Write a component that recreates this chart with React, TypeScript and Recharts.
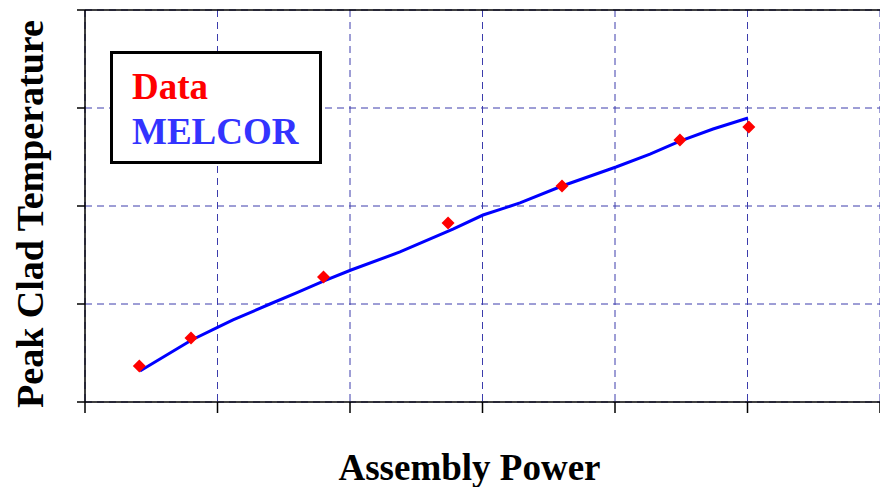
import React from 'react';
import {
  CartesianGrid,
  ComposedChart,
  Label,
  Legend,
  Line,
  ReferenceLine,
  Scatter,
  XAxis,
  YAxis,
} from 'recharts';

const dataPower = [0.41, 0.8, 1.8, 2.74, 3.6, 4.49, 5.01];
const dataTemp = [0.367, 0.653, 1.276, 1.827, 2.204, 2.673, 2.806];

// MELCOR curve
const melcorPower = [0.415, 0.805, 1.004, 1.117, 1.396, 1.6, 1.804, 2.008, 2.377, 2.777, 3.004, 3.283, 3.6, 4.008, 4.264, 4.49, 4.74, 5.004];
const melcorTemp = [0.316, 0.633, 0.765, 0.837, 1.0, 1.115, 1.235, 1.347, 1.531, 1.765, 1.908, 2.031, 2.204, 2.398, 2.53, 2.663, 2.786, 2.898];

const xTicks = [0, 1, 2, 3, 4, 5, 6];
const yTicks = [0, 1, 2, 3, 4];

const measured = dataPower.map((x, i) => ({ x, y: dataTemp[i] }));
const melcor = melcorPower.map((x, i) => ({ x, y: melcorTemp[i] }));

const FONT = '"Liberation Serif", "Times New Roman", serif';
const legendTextColors: Record<string, string> = { Data: '#ff0000', MELCOR: '#3333ff' };

const Diamond = (props: any) => {
  const { cx, cy } = props;
  if (cx == null || cy == null) return null;
  const r = 6.5;
  return <polygon points={`${cx},${cy - r} ${cx + r},${cy} ${cx},${cy + r} ${cx - r},${cy}`} fill="#ff0000" />;
};

const LegendBox = (props: any) => {
  const items = [...(props.payload ?? [])].sort((a: any, b: any) => String(a.value).localeCompare(String(b.value)));
  return (
    <div style={{ width: 212, height: 113, border: '3px solid #000', boxSizing: 'border-box', background: '#fff' }}>
      <svg width={206} height={107}>
        {items.map((item: any, i: number) => (
          <text
            key={item.value}
            x={19}
            y={45 + i * 45}
            fontFamily={FONT}
            fontWeight="bold"
            fontSize={37}
            fill={legendTextColors[item.value] ?? item.color}
          >
            {item.value}
          </text>
        ))}
      </svg>
    </div>
  );
};

const XTitle = (props: any) => {
  const { viewBox } = props;
  return (
    <text x={viewBox.x + viewBox.width / 2 - 13} y={480} textAnchor="middle" fontFamily={FONT} fontWeight="bold" fontSize={37} fill="#000">
      Assembly Power
    </text>
  );
};

const YTitle = () => (
  <text x={43} y={214} transform="rotate(-90 43 214)" textAnchor="middle" fontFamily={FONT} fontWeight="bold" fontSize={38} fill="#000">
    Peak Clad Temperature
  </text>
);

export default function App() {
  return (
    <div style={{ position: 'absolute', left: 0, top: 0, width: 880, height: 487, background: '#fff' }}>
      <ComposedChart width={880} height={487} margin={{ top: 10, right: 0, bottom: 0, left: 0 }}>
        <CartesianGrid stroke="#3c3cac" strokeDasharray="7 5" strokeWidth={1} />
        <XAxis
          type="number"
          dataKey="x"
          domain={[0, 6]}
          ticks={xTicks}
          height={85}
          tickSize={11}
          tickFormatter={() => ''}
          axisLine={{ stroke: '#000', strokeWidth: 1.5 }}
          tickLine={{ stroke: '#000', strokeWidth: 1.5 }}
        >
          <Label content={<XTitle />} />
        </XAxis>
        <YAxis
          type="number"
          domain={[0, 4]}
          ticks={yTicks}
          width={85}
          tickSize={8}
          tickFormatter={() => ''}
          axisLine={{ stroke: '#000', strokeWidth: 1.5 }}
          tickLine={{ stroke: '#000', strokeWidth: 1.5 }}
        >
          <Label content={<YTitle />} />
        </YAxis>
        <ReferenceLine y={4} stroke="#000" strokeWidth={1.5} />
        <Legend
          layout="horizontal"
          verticalAlign="middle"
          align="center"
          content={<LegendBox />}
          wrapperStyle={{ left: 110, top: 51, width: 212, height: 113 }}
        />
        <Line
          name="MELCOR"
          data={melcor}
          dataKey="y"
          type="linear"
          stroke="#0000ff"
          strokeWidth={3}
          dot={false}
          activeDot={false}
          isAnimationActive={false}
        />
        <Scatter name="Data" data={measured} dataKey="y" fill="#ff0000" shape={<Diamond />} isAnimationActive={false} />
      </ComposedChart>
    </div>
  );
}
